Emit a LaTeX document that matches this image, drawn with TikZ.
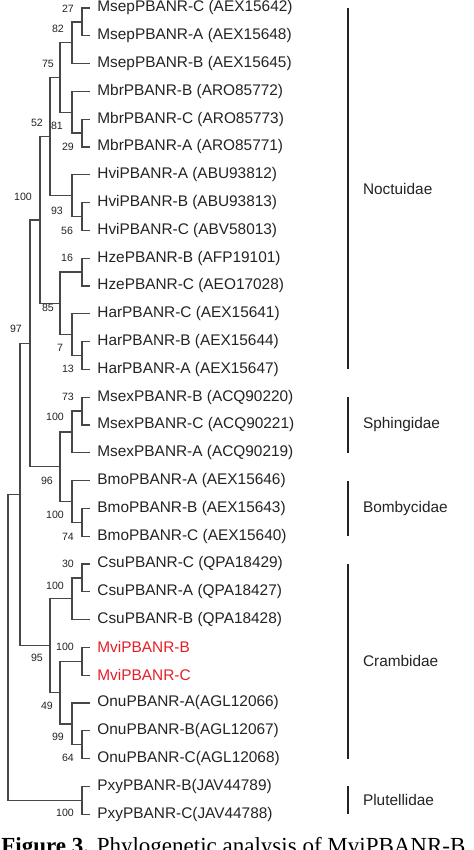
\documentclass[tikz,border=0pt]{standalone}
\usepackage{fontspec}
\usepackage{tikz}
\usetikzlibrary{calc}
\newfontfamily\arialfont{Liberation Sans}
\newfontfamily\timesfont{Liberation Serif}
\definecolor{ink}{RGB}{35,35,35}
\definecolor{mvired}{RGB}{228,30,38}
% joins two children at a given x, halfway between them
\newcommand{\cladejoin}[4]{%
  \path ($(#3)!0.5!(#4)$) coordinate (#1m);
  \coordinate (#1) at (#2,0 |- #1m);
  \draw[branch] (#3) -| (#1) |- (#4);}

\begin{document}
\begin{tikzpicture}[x=0.5pt,y=-0.5pt,
  branch/.style={black!72,line width=0.65pt},
  leaf/.style={anchor=west,inner xsep=3.5pt,inner ysep=0pt,font=\arialfont\fontsize{7.7}{8}\selectfont},
  boot/.style={inner sep=0pt,font=\arialfont\fontsize{5.3}{6}\selectfont,text=ink},
  famline/.style={ink,line width=1pt},
  famlabel/.style={anchor=west,inner sep=0pt,xshift=7pt,font=\arialfont\fontsize{7.7}{8}\selectfont,text=ink}]
  \def\rowh{27.8}
  \useasboundingbox (0,0) rectangle (474,850);
  \clip (0,0) rectangle (474,850);
  % leaves
  \foreach \i/\txt/\col in {1/MsepPBANR-C (AEX15642)/ink, 2/MsepPBANR-A (AEX15648)/ink,
      3/MsepPBANR-B (AEX15645)/ink, 4/MbrPBANR-B (ARO85772)/ink, 5/MbrPBANR-C (ARO85773)/ink,
      6/MbrPBANR-A (ARO85771)/ink, 7/HviPBANR-A (ABU93812)/ink, 8/HviPBANR-B (ABU93813)/ink,
      9/HviPBANR-C (ABV58013)/ink, 10/HzePBANR-B (AFP19101)/ink, 11/HzePBANR-C (AEO17028)/ink,
      12/HarPBANR-C (AEX15641)/ink, 13/HarPBANR-B (AEX15644)/ink, 14/HarPBANR-A (AEX15647)/ink,
      15/MsexPBANR-B (ACQ90220)/ink, 16/MsexPBANR-C (ACQ90221)/ink, 17/MsexPBANR-A (ACQ90219)/ink,
      18/BmoPBANR-A (AEX15646)/ink, 19/BmoPBANR-B (AEX15643)/ink, 20/BmoPBANR-C (AEX15640)/ink,
      21/CsuPBANR-C (QPA18429)/ink, 22/CsuPBANR-A (QPA18427)/ink, 23/CsuPBANR-B (QPA18428)/ink,
      24/MviPBANR-B/mvired, 25/MviPBANR-C/mvired,
      26/OnuPBANR-A(AGL12066)/ink, 27/OnuPBANR-B(AGL12067)/ink, 28/OnuPBANR-C(AGL12068)/ink,
      29/PxyPBANR-B(JAV44789)/ink, 30/PxyPBANR-C(JAV44788)/ink}
    \node[leaf,text=\col] (l\i) at (90,{8+(\i-1)*\rowh}) {\txt};
  % Noctuidae
  \cladejoin{n1}{82}{l1}{l2}
  \cladejoin{n2}{72}{n1}{l3}
  \cladejoin{n3}{82}{l5}{l6}
  \cladejoin{n4}{72}{l4}{n3}
  \cladejoin{n5}{60}{n2}{n4}
  \cladejoin{n6}{82}{l8}{l9}
  \cladejoin{n7}{72}{l7}{n6}
  \cladejoin{n8}{50}{n5}{n7}
  \cladejoin{n9}{82}{l10}{l11}
  \cladejoin{n10}{82}{l13}{l14}
  \cladejoin{n11}{72}{l12}{n10}
  \cladejoin{n12}{60}{n9}{n11}
  \cladejoin{n13}{40}{n8}{n12}
  % Sphingidae + Bombycidae
  \cladejoin{n14}{82}{l15}{l16}
  \cladejoin{n15}{72}{n14}{l17}
  \cladejoin{n16}{82}{l19}{l20}
  \cladejoin{n17}{72}{l18}{n16}
  \cladejoin{n18}{60}{n15}{n17}
  \cladejoin{n19}{30}{n13}{n18}
  % Crambidae
  \cladejoin{n20}{82}{l21}{l22}
  \cladejoin{n21}{72}{n20}{l23}
  \cladejoin{n22}{82}{l24}{l25}
  \cladejoin{n23}{82}{l27}{l28}
  \cladejoin{n24}{72}{l26}{n23}
  \cladejoin{n25}{60}{n22}{n24}
  \cladejoin{n26}{50}{n21}{n25}
  \cladejoin{n27}{20}{n19}{n26}
  % Plutellidae, root
  \cladejoin{n28}{82}{l29}{l30}
  \cladejoin{n29}{8}{n27}{n28}
  % bootstrap values
  \foreach \v/\bx/\by [count=\k] in {27/68/9, 82/58/29, 75/48/64, 52/37/123, 81/57/126,
      29/68/147, 100/23/197, 93/57/211, 56/67/231, 16/67/258, 85/48/308, 97/16/329,
      7/60/348, 13/68/369, 73/68/397, 100/55/417, 96/47/481, 100/55/515, 74/68/537,
      30/68/564, 100/55/586, 100/65/647, 95/37/658, 49/47/706, 99/58/737, 64/68/758,
      100/65/813}
    \node[boot] (b\k) at (\bx,\by) {\v};
  % families
  \foreach \f/\a/\b in {Noctuidae/1/14, Sphingidae/15/17, Bombycidae/18/20,
      Crambidae/21/28, Plutellidae/29/30}
    \draw[famline] (348,0 |- l\a) -- (348,0 |- l\b) node[famlabel,midway] (\f) {\f};
  % caption, cut off at the bottom edge
  \node[anchor=base west,inner sep=0pt,font=\timesfont\fontsize{11.5}{12}\selectfont,text=black]
    (caption) at (1,853) {\textbf{Figure 3.} Phylogenetic analysis of MviPBANR-B};
\end{tikzpicture}
\end{document}
